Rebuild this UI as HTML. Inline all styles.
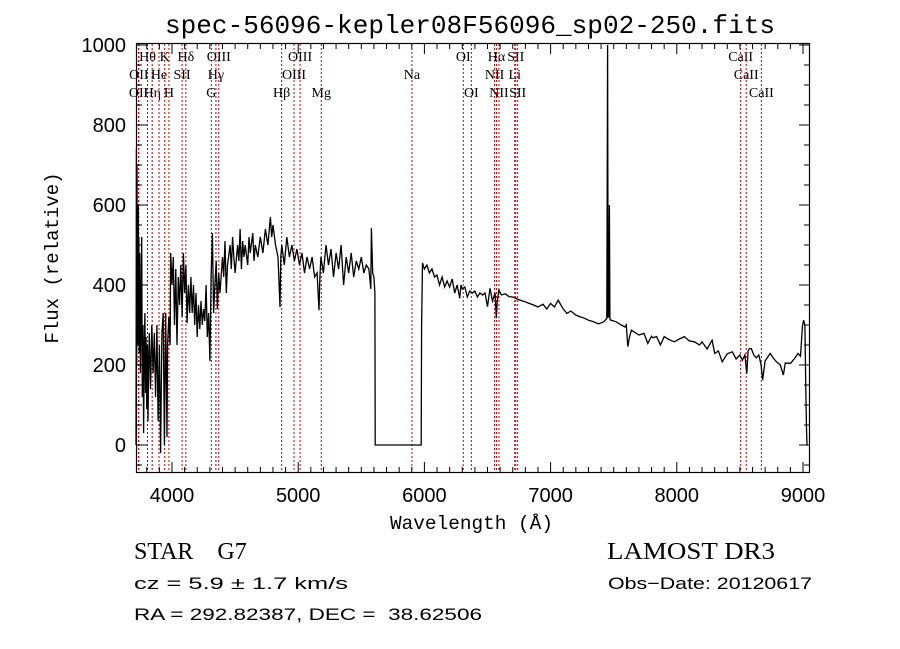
<!DOCTYPE html>
<html><head><meta charset="utf-8"><style>
html,body{margin:0;padding:0;background:#fff}
svg{display:block}
.lb{font-family:"Liberation Serif",serif;font-size:14px}
</style></head><body>
<svg id="chart" width="900" height="649" viewBox="0 0 900 649" xmlns="http://www.w3.org/2000/svg">
<rect width="900" height="649" fill="#fff"/>
<text x="165" y="33" textLength="610" lengthAdjust="spacingAndGlyphs" font-family="Liberation Mono, monospace" font-size="26">spec-56096-kepler08F56096_sp02-250.fits</text>
<g id="lines"></g>
<g id="ticks"></g>
<polyline id="spec" fill="none" stroke="#000" stroke-width="1.3" stroke-linejoin="miter"/>
<rect x="136.5" y="43.5" width="673" height="429" fill="none" stroke="#000" stroke-width="1.2"/>
<text x="390" y="529" textLength="163" lengthAdjust="spacingAndGlyphs" font-family="Liberation Mono, monospace" font-size="19">Wavelength (Å)</text>
<text transform="translate(58,258) rotate(-90)" text-anchor="middle" font-family="Liberation Mono, monospace" font-size="19">Flux (relative)</text>
<text x="134" y="559" font-family="Liberation Serif, serif" font-size="24" xml:space="preserve" style="white-space:pre">STAR    G7</text>
<text x="607" y="559" textLength="168" lengthAdjust="spacingAndGlyphs" font-family="Liberation Serif, serif" font-size="24">LAMOST DR3</text>
<text x="134" y="589" textLength="214" lengthAdjust="spacingAndGlyphs" font-family="Liberation Sans, sans-serif" font-size="17">cz = 5.9 ± 1.7 km/s</text>
<text x="608" y="589" textLength="204" lengthAdjust="spacingAndGlyphs" font-family="Liberation Sans, sans-serif" font-size="17">Obs−Date: 20120617</text>
<text x="134" y="620" textLength="348" lengthAdjust="spacingAndGlyphs" font-family="Liberation Sans, sans-serif" font-size="17" xml:space="preserve" style="white-space:pre">RA = 292.82387, DEC =  38.62506</text>
</svg>
<script>
const wave = [
3715,3718,3720,3723,3725,3728,3730,3733,3735,3738,
3740,3745,3750,3755,3760,3765,3770,3775,3780,3785,
3790,3795,3800,3805,3810,3815,3820,3830,3840,3850,
3860,3870,3880,3890,3900,3910,3920,3930,3940,3950,
3960,3965,3975,3985,3990,4000,4010,4020,4030,4040,
4050,4060,4070,4080,4090,4100,4110,4120,4130,4140,
4150,4160,4170,4180,4190,4200,4210,4220,4230,4240,
4250,4260,4270,4280,4290,4300,4310,4320,4330,4340,
4350,4360,4370,4380,4400,4410,4420,4430,4440,4460,
4470,4480,4490,4500,4520,4530,4540,4550,4560,4570,
4580,4600,4610,4620,4640,4650,4660,4680,4700,4720,
4740,4760,4780,4790,4800,4820,4840,4856,4862,4870,
4890,4910,4930,4950,4970,4990,5010,5030,5050,5070,
5090,5110,5130,5150,5165,5172,5180,5200,5220,5240,
5260,5280,5300,5320,5340,5360,5380,5400,5420,5440,
5460,5480,5500,5520,5540,5560,5575,5580,5590,5600,
5608,5610,5975,5978,5985,6000,6020,6040,6060,6080,
6100,6120,6140,6160,6180,6200,6220,6240,6260,6280,
6290,6300,6320,6340,6360,6380,6400,6420,6440,6460,
6480,6500,6520,6540,6560,6570,6578,6590,6610,6640,
6670,6700,6735,6760,6800,6830,6865,6900,6940,6970,
7000,7030,7060,7100,7130,7160,7200,7230,7260,7300,
7340,7380,7420,7445,7452,7456,7460,7466,7470,7476,
7480,7520,7560,7590,7600,7612,7625,7640,7665,7700,
7740,7770,7800,7810,7840,7870,7900,7930,7950,7980,
8020,8060,8100,8140,8180,8200,8240,8280,8300,8330,
8360,8400,8440,8470,8500,8520,8540,8555,8565,8575,
8590,8610,8630,8650,8668,8680,8700,8740,8770,8790,
8820,8845,8860,8900,8930,8960,8980,8995,9005,9015,
9022,9028,9032,9036,9040];
const flux = [
0,740,200,700,300,560,250,600,300,520,
230,480,180,350,520,120,300,30,230,330,
130,270,90,250,60,210,280,140,300,180,
280,120,300,60,250,-20,280,330,0,330,
20,250,320,250,480,400,470,300,440,250,
420,350,450,320,480,380,450,305,400,330,
420,330,400,300,380,270,350,290,360,300,
340,310,400,270,330,210,420,530,330,400,
460,340,430,380,470,420,510,380,450,500,
440,520,470,430,500,460,540,440,510,470,
500,450,520,480,530,460,500,470,520,480,
540,500,570,520,550,500,470,345,470,500,
450,520,470,500,460,490,450,480,430,470,
440,470,420,430,337,420,470,430,500,450,
490,420,480,440,500,400,470,430,480,420,
460,440,470,430,450,440,390,542,430,420,
380,0,0,300,455,440,450,430,440,420,
425,400,420,395,410,395,415,380,400,367,
400,390,395,370,385,380,385,370,380,375,
380,346,392,360,380,317,360,387,375,378,
371,370,365,362,358,354,350,345,352,340,
354,345,362,340,329,335,325,321,318,312,
308,303,308,316,1000,320,320,600,316,312,
312,308,300,295,300,246,270,287,282,275,
279,254,272,268,271,250,271,265,262,258,
265,271,260,258,250,258,240,262,229,235,
208,228,233,215,225,212,225,179,235,241,
241,225,218,225,200,162,210,229,215,208,
200,175,205,204,215,229,222,296,312,300,
140,40,0,0,0];
const lineWave = [3727,3729,3798,3835,3889,3934,3968,4072,4102,4304,4340,4363,4861,4959,5007,5175,5893,6300,6364,6548,6563,6583,6708,6716,6731,8498,8542,8662];
const lineName = ["OII","OII","Hθ","Hη","He","K","H","SII","Hδ","G","Hγ","OIII","Hβ","OIII","OIII","Mg","Na","OI","OI","NII","Hα","NII","Li","SII","SII","CaII","CaII","CaII"];
const lineRow = [3,2,1,3,2,1,3,2,1,3,2,1,3,2,1,3,2,1,3,2,1,3,2,1,3,1,2,3];
const xTicks = [4000,5000,6000,7000,8000,9000];
const yTicks = [0,200,400,600,800,1000];

const NS="http://www.w3.org/2000/svg";
function xs(w){return 172+(w-4000)*0.1262;}
function ys(f){return 445-f*0.4;}
const svg=document.getElementById('chart');
const gL=document.getElementById('lines'), gT=document.getElementById('ticks');
function mk(t,a,p){const e=document.createElementNS(NS,t);for(const k in a)e.setAttribute(k,a[k]);(p||svg).appendChild(e);return e;}
function clipY(v){return Math.max(44,Math.min(472,v));}
const n=Math.min(wave.length,flux.length);
const pts=[];
for(let i=0;i<n;i++)pts.push(xs(wave[i]).toFixed(1)+","+clipY(ys(flux[i])).toFixed(1));
document.getElementById('spec').setAttribute('points',pts.join(" "));
const rowY={1:61,2:79,3:97};
lineWave.forEach((w,i)=>{
  const x=xs(w)+1;
  const l=mk('line',{x1:x,x2:x,y1:44,y2:472,stroke:'#c00000','stroke-width':1,'stroke-dasharray':'2,2'},gL);
  
  
  const t=mk('text',{x:x,y:rowY[lineRow[i]],'text-anchor':'middle','class':'lb'},gL);
  t.textContent=lineName[i];
  
  
});
for(let w=3800;w<=9000;w+=100){
  const x=xs(w), major=(w%1000===0), len=major?10:5;
  mk('line',{x1:x,x2:x,y1:472,y2:472-len,stroke:'#000','stroke-width':1},gT);
  mk('line',{x1:x,x2:x,y1:44,y2:44+len,stroke:'#000','stroke-width':1},gT);
}
xTicks.forEach(w=>{
  const t=mk('text',{x:xs(w),y:502,'text-anchor':'middle','font-family':'Liberation Sans, sans-serif','font-size':20},gT);
  t.textContent=w;
  
  
});
for(let f=-50;f<=1000;f+=50){
  const y=ys(f), major=(f%200===0), len=major?10:5;
  mk('line',{x1:137,x2:137+len,y1:y,y2:y,stroke:'#000','stroke-width':1},gT);
  mk('line',{x1:809,x2:809-len,y1:y,y2:y,stroke:'#000','stroke-width':1},gT);
}
yTicks.forEach(f=>{
  const t=mk('text',{x:126,y:ys(f)+7,'text-anchor':'end','font-family':'Liberation Sans, sans-serif','font-size':20},gT);
  t.textContent=f;
  
  
});
</script>
</body></html>
